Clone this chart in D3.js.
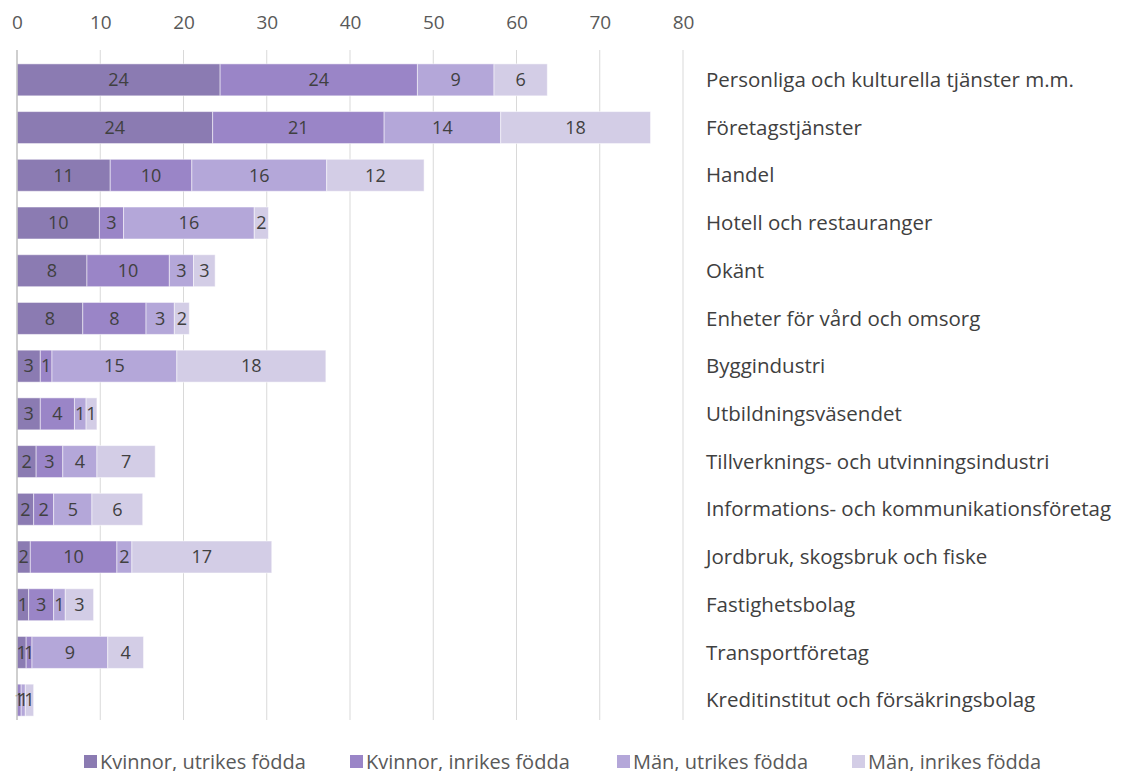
<!DOCTYPE html>
<html>
<head>
<meta charset="utf-8">
<script src="https://cdn.jsdelivr.net/npm/d3@7"></script>
<style>
  body { margin: 0; background: #fff; }
  text { font-family: "Open Sans", "Noto Sans", sans-serif; fill: #404040; }
</style>
</head>
<body>
<div class="barchart"></div>
<script>
(function() {
  'use strict';

  var categories = [
    "Personliga och kulturella tjänster m.m.",
    "Företagstjänster",
    "Handel",
    "Hotell och restauranger",
    "Okänt",
    "Enheter för vård och omsorg",
    "Byggindustri",
    "Utbildningsväsendet",
    "Tillverknings- och utvinningsindustri",
    "Informations- och kommunikationsföretag",
    "Jordbruk, skogsbruk och fiske",
    "Fastighetsbolag",
    "Transportföretag",
    "Kreditinstitut och försäkringsbolag"
  ];
  var seriesNames = ["Kvinnor, utrikes födda", "Kvinnor, inrikes födda", "Män, utrikes födda", "Män, inrikes födda"];
  var kvinnorUtrikes = [24.4, 23.5, 11.2, 9.9, 8.4, 7.9, 2.8, 2.8, 2.3, 2.0, 1.6, 1.4, 1.1, 0];
  var kvinnorInrikes = [23.7, 20.6, 9.8, 2.9, 9.9, 7.6, 1.4, 4.1, 3.2, 2.4, 10.4, 3.0, 0.7, 0.5];
  var manUtrikes = [9.2, 14.0, 16.2, 15.7, 2.9, 3.4, 15.0, 1.4, 4.1, 4.6, 1.8, 1.4, 9.1, 0.5];
  var manInrikes = [6.4, 18.0, 11.7, 1.7, 2.6, 1.8, 17.9, 1.3, 7.0, 6.1, 16.8, 3.4, 4.3, 1.0];
  var xTicks = [0, 10, 20, 30, 40, 50, 60, 70, 80];

  var width = 1123;
  var height = 771;

  var svg = d3.select(".barchart").append("svg")
    .attr("width", width)
    .attr("height", height);

  var color = d3.scaleOrdinal()
    .domain(seriesNames)
    .range(["#8b7bb2", "#9a85c7", "#b4a7d9", "#d3cde6"]);

  var x = d3.scaleLinear().domain([0, 80]).range([17, 683]);
  var y = d3.scaleBand().domain(categories).range([56, 724]).paddingInner(0.33).paddingOuter(0.165);

  var rows = categories.map(function(c, i) {
    return {
      cat: c,
      "Kvinnor, utrikes födda": kvinnorUtrikes[i],
      "Kvinnor, inrikes födda": kvinnorInrikes[i],
      "Män, utrikes födda": manUtrikes[i],
      "Män, inrikes födda": manInrikes[i]
    };
  });
  var stack = d3.stack().keys(seriesNames)(rows);

  // gridlines
  svg.append("g").selectAll("line")
    .data(xTicks.slice(1))
    .enter().append("line")
    .attr("x1", function(d) { return x(d); })
    .attr("x2", function(d) { return x(d); })
    .attr("y1", 50)
    .attr("y2", 720)
    .attr("stroke", "#d9d9d9")
    .attr("stroke-width", 1);

  // tick labels on top
  var xAxis = svg.append("g")
    .attr("transform", "translate(0,22)")
    .call(d3.axisTop(x).tickValues(xTicks).tickSize(0).tickPadding(0));
  xAxis.select(".domain").remove();
  xAxis.selectAll("text")
    .attr("dy", "0.35em")
    .style("font-size", "19px")
    .style("fill", "#595959")
    .style("font-family", "'Open Sans', sans-serif");

  var layer = svg.append("g").selectAll("g")
    .data(stack)
    .enter().append("g")
    .attr("fill", function(d) { return color(d.key); });

  layer.selectAll("rect")
    .data(function(d) { return d; })
    .enter().append("rect")
    .attr("x", function(d) { return x(d[0]); })
    .attr("y", function(d) { return y(d.data.cat); })
    .attr("width", function(d) { return x(d[1]) - x(d[0]); })
    .attr("height", y.bandwidth())
    .attr("stroke", "#ffffff")
    .attr("stroke-opacity", 0.5)
    .attr("stroke-width", 1);

  layer.selectAll("text")
    .data(function(d) { return d.filter(function(p) { return p[1] - p[0] > 0; }); })
    .enter().append("text")
    .attr("x", function(d) { return x((d[0] + d[1]) / 2); })
    .attr("y", function(d) { return y(d.data.cat) + y.bandwidth() / 2; })
    .attr("dy", "0.35em")
    .attr("text-anchor", "middle")
    .style("font-size", "18px")
    .text(function(d) { return Math.round(d[1] - d[0]); });

  // y axis line
  svg.append("line")
    .attr("x1", x(0)).attr("x2", x(0))
    .attr("y1", 50).attr("y2", 720)
    .attr("stroke", "#bfbfbf")
    .attr("stroke-width", 1.5);

  // category labels on the right
  svg.append("g").selectAll("text")
    .data(categories)
    .enter().append("text")
    .attr("x", 706)
    .attr("y", function(d) { return y(d) + y.bandwidth() / 2; })
    .attr("dy", "0.35em")
    .style("font-size", "20.5px")
    .text(function(d) { return d; });

  // legend
  var legendX = [84, 350, 617, 852];
  var legend = svg.append("g").selectAll("g")
    .data(seriesNames)
    .enter().append("g")
    .attr("transform", function(d, i) { return "translate(" + legendX[i] + ",755)"; });

  legend.append("rect")
    .attr("width", 13)
    .attr("height", 13)
    .attr("fill", function(d) { return color(d); });

  legend.append("text")
    .attr("x", 16)
    .attr("y", 6.5)
    .attr("dy", "0.35em")
    .style("font-size", "20px")
    .style("fill", "#595959")
    .text(function(d) { return d; });

})();
</script>
</body>
</html>
